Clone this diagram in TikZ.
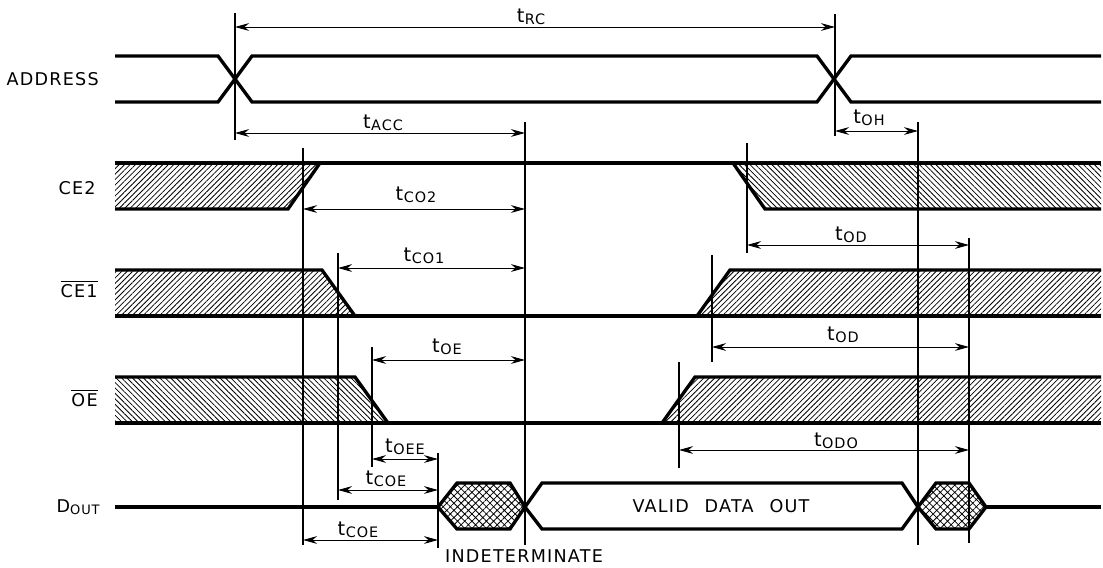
\documentclass[tikz,border=0pt]{standalone}
\usepackage{fontspec}
\setmainfont{DejaVu Sans}[LetterSpace=7]
\usetikzlibrary{arrows.meta,patterns.meta}

\newcommand{\tsub}[1]{{\fontsize{11}{12}\selectfont t}\kern0.3pt\raisebox{-0.13em}{\fontsize{8.2}{9}\selectfont #1}}

\begin{document}
\begin{tikzpicture}[x=0.02cm, y=-0.02cm,
  font=\fontsize{10}{12}\selectfont,
  sig/.style={line width=1.9pt, line join=miter},
  refl/.style={line width=0.75pt},
  dim/.style={{Stealth[length=8pt,width=4.4pt]}-{Stealth[length=8pt,width=4.4pt]}, line width=0.55pt},
  hatchR/.style={pattern={Lines[angle=45,distance=2.2pt,line width=0.45pt]}},
  hatchL/.style={pattern={Lines[angle=-45,distance=2.2pt,line width=0.45pt]}},
  xhatch/.style={pattern={Hatch[angle=45,distance=2.9pt,line width=0.45pt]}},
  signame/.style={anchor=base east, inner sep=0pt},
  tlab/.style={anchor=base, inner sep=0pt}]
\useasboundingbox (0,0) rectangle (1103,568);
% ---------------- time marks ----------------
\coordinate (tAS)  at (235,0);
\coordinate (tAE)  at (835,0);
\coordinate (tACC) at (525,0);
\coordinate (tOH)  at (918,0);
\coordinate (tC2)  at (303,0);
\coordinate (tC2r) at (747,0);
\coordinate (tHZ)  at (969,0);
\coordinate (tC1)  at (338,0);
\coordinate (tC1r) at (712,0);
\coordinate (tOE)  at (372,0);
\coordinate (tOEr) at (679,0);
\coordinate (tLZ)  at (438,0);
% ---------------- signal names ----------------
\node[signame] (nAddr) at (99,85)  {ADDRESS};
\node[signame] (nCE2)  at (96,194) {CE2};
\node[signame] (nCE1)  at (98,297) {$\overline{\mbox{CE1}}$};
\node[signame] (nOE)   at (98,406) {$\overline{\mbox{OE}}$};
\node[signame] (nDout) at (100,512) {D\raisebox{-0.12em}{\fontsize{7.4}{8}\selectfont OUT}};
% ---------------- hatched regions ----------------
\path[hatchR] (115,163) -- (320,163) -- (288,209) -- (115,209) -- cycle;
\path[hatchL] (733,163) -- (1101,163) -- (1101,209) -- (765,209) -- cycle;
\path[hatchR] (115,270) -- (322,270) -- (355,316) -- (115,316) -- cycle;
\path[hatchR] (697,316) -- (730,270) -- (1101,270) -- (1101,316) -- cycle;
\path[hatchL] (115,377) -- (355,377) -- (388,423) -- (115,423) -- cycle;
\path[hatchR] (662,423) -- (695,377) -- (1101,377) -- (1101,423) -- cycle;
\path[xhatch] (438,507) -- (457,483) -- (510,483) -- (525,507) -- (510,529) -- (457,529) -- cycle;
\path[xhatch] (918,507) -- (936,483) -- (969,483) -- (986,507) -- (969,529) -- (936,529) -- cycle;
% ---------------- waveforms ----------------
\draw[sig] (115,56) -- (218,56) -- (252,102) -- (817,102) -- (851,56) -- (1101,56);
\draw[sig] (115,102) -- (218,102) -- (252,56) -- (817,56) -- (851,102) -- (1101,102);
\draw[sig] (115,163) -- (1101,163);
\draw[sig] (115,209) -- (288,209) -- (320,163);
\draw[sig] (733,163) -- (765,209) -- (1101,209);
\draw[sig] (115,316) -- (1101,316);
\draw[sig] (115,270) -- (322,270) -- (355,316);
\draw[sig] (697,316) -- (730,270) -- (1101,270);
\draw[sig] (115,423) -- (1101,423);
\draw[sig] (115,377) -- (355,377) -- (388,423);
\draw[sig] (662,423) -- (695,377) -- (1101,377);
\draw[sig] (115,507) -- (438,507);
\draw[sig] (438,507) -- (457,483) -- (510,483) -- (525,507) -- (510,529) -- (457,529) -- cycle;
\draw[sig] (525,507) -- (542,483) -- (902,483) -- (918,507) -- (902,529) -- (542,529) -- cycle;
\draw[sig] (918,507) -- (936,483) -- (969,483) -- (986,507) -- (969,529) -- (936,529) -- cycle;
\draw[sig] (986,507) -- (1101,507);
\node[anchor=base, inner sep=0pt] (valid) at (721,512) {VALID\hspace{0.9em}DATA\hspace{0.9em}OUT};
\node[anchor=base, inner sep=0pt] (indet) at (524,562) {INDETERMINATE};
% ---------------- reference lines ----------------
\draw[refl] (tAS |- 0,13) -- (tAS |- 0,140);
\draw[refl] (tAE |- 0,14) -- (tAE |- 0,136);
\draw[refl, line width=1.1pt] (tACC |- 0,122) -- (tACC |- 0,545);
\draw[refl] (tOH |- 0,122) -- (tOH |- 0,545);
\draw[refl] (tC2 |- 0,148) -- (tC2 |- 0,545);
\draw[refl] (tC2r |- 0,143) -- (tC2r |- 0,253);
\draw[refl] (tHZ |- 0,238) -- (tHZ |- 0,543);
\draw[refl] (tC1 |- 0,253) -- (tC1 |- 0,500);
\draw[refl] (tC1r |- 0,255) -- (tC1r |- 0,362);
\draw[refl] (tOE |- 0,347) -- (tOE |- 0,467);
\draw[refl] (tOEr |- 0,362) -- (tOEr |- 0,468);
\draw[refl] (tLZ |- 0,453) -- (tLZ |- 0,548);
% ---------------- timing arrows ----------------
\draw[dim] (tAS |- 0,27) -- (tAE |- 0,27);
\draw[dim] (tAS |- 0,133) -- (tACC |- 0,133);
\draw[dim] (tAE |- 0,131) -- (tOH |- 0,131);
\draw[dim] (tC2 |- 0,209) -- (tACC |- 0,209);
\draw[dim] (tC2r |- 0,245) -- (tHZ |- 0,245);
\draw[dim] (tC1 |- 0,268) -- (tACC |- 0,268);
\draw[dim] (tC1r |- 0,347) -- (tHZ |- 0,347);
\draw[dim] (tOE |- 0,360) -- (tACC |- 0,360);
\draw[dim] (tOEr |- 0,450) -- (tHZ |- 0,450);
\draw[dim] (tOE |- 0,459) -- (tLZ |- 0,459);
\draw[dim] (tC1 |- 0,490) -- (tLZ |- 0,490);
\draw[dim] (tC2 |- 0,540) -- (tLZ |- 0,540);
\node[tlab] (lRC)  at (531,22)  {\tsub{RC}};
\node[tlab] (lACC) at (383,128) {\tsub{ACC}};
\node[tlab] (lOH)  at (869,123) {\tsub{OH}};
\node[tlab] (lCO2) at (416,200) {\tsub{CO2}};
\node[tlab] (lOD1) at (851,240) {\tsub{OD}};
\node[tlab] (lCO1) at (424,261) {\tsub{CO1}};
\node[tlab] (lOD2) at (843,340) {\tsub{OD}};
\node[tlab] (lOE)  at (447,352) {\tsub{OE}};
\node[tlab] (lODO) at (836,446) {\tsub{ODO}};
\node[tlab] (lOEE) at (405,452) {\tsub{OEE}};
\node[tlab] (lCOE1) at (386,484) {\tsub{COE}};
\node[tlab] (lCOE2) at (358,535) {\tsub{COE}};
\end{tikzpicture}
\end{document}
